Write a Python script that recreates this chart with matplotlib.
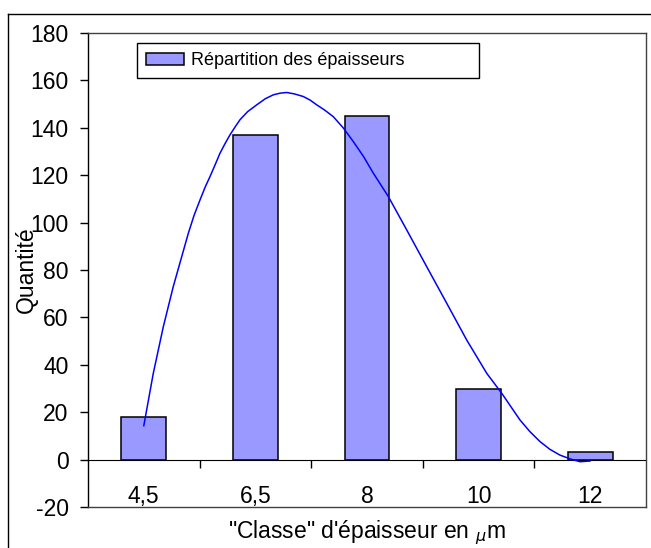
import numpy as np
import matplotlib.pyplot as plt
from matplotlib.lines import Line2D

plt.rcParams["font.family"] = ["Liberation Sans", "DejaVu Sans"]
plt.rcParams["axes.unicode_minus"] = False

# Data
classes = ["4,5", "6,5", "8", "10", "12"]
counts = [18, 137, 145, 30, 3]

# Smoothed curve (category position, value)
curve_pos = [0.0, 0.085, 0.175, 0.264, 0.399, 0.45, 0.504, 0.55, 0.593, 0.64, 0.683,
             0.73, 0.772, 0.82, 0.862, 0.93, 1.012, 1.09, 1.160, 1.22, 1.280, 1.35,
             1.429, 1.49, 1.549, 1.62, 1.698, 1.79, 1.877, 1.97, 2.056, 2.191, 2.356,
             2.535, 2.714, 2.893, 3.073, 3.207, 3.371, 3.46, 3.550, 3.64, 3.729, 3.82,
             3.909, 3.998]
curve_val = [14.3, 36.4, 56.1, 73.0, 95.5, 103.0, 109.6, 115.0, 119.4, 124.5, 129.3,
             133.5, 137.0, 140.5, 143.4, 146.8, 149.7, 152.3, 153.9, 154.6, 154.9, 154.3,
             153.2, 151.7, 149.7, 147.5, 144.7, 139.8, 134.2, 127.8, 120.9, 111.0, 96.9,
             81.4, 66.0, 50.5, 36.4, 28.0, 16.7, 11.8, 7.6, 4.3, 1.9, 0.3,
             -0.9, -0.6]

W, H = 651, 548
fig = plt.figure(figsize=(W / 100, H / 100), dpi=100)
ax = fig.add_axes([88 / W, 1 - 507 / H, (646 - 88) / W, (507 - 33) / H])

x = np.arange(len(classes))
ax.bar(x, counts, width=0.4, color="#9999FF", edgecolor="black", linewidth=1.1,
       label="Répartition des épaisseurs", zorder=2)
ax.plot(curve_pos, curve_val, color="#0000FF", linewidth=1.1, zorder=3,
        solid_joinstyle="round")

ax.set_xlim(-0.5, len(classes) - 0.5)
ax.set_ylim(-20, 180)
ax.set_yticks(np.arange(-20, 181, 20))
ax.tick_params(axis="y", direction="out", length=6, width=1, pad=8, labelsize=16.5)
ax.set_xticks([])
for s in ax.spines.values():
    s.set_color("#404040")
    s.set_linewidth(1)
ax.spines["left"].set_color("black")

# category axis drawn at y = 0
sec = ax.secondary_xaxis(20 / 200)
sec.spines["bottom"].set_color("black")
sec.set_xticks(x[:-1] + 0.5, labels=[""] * (len(classes) - 1))
sec.set_xticks(x, labels=classes, minor=True)
sec.tick_params(which="major", direction="out", length=6, width=1)
sec.tick_params(which="minor", length=0, pad=18, labelsize=16.5)

ax.set_ylabel("Quantité", fontsize=16.5)
ax.yaxis.set_label_coords(-0.09, 0.5)
ax.set_xlabel("\"Classe\" d'épaisseur en $_{\\mu}$m", fontsize=16.5)
ax.xaxis.set_label_coords(0.5, -0.024)

ax.legend(loc="upper left", bbox_to_anchor=((137 - 88) / 558, (507 - 43) / 474, (479 - 137) / 558, 0.0),
          mode="expand", fontsize=13, fancybox=False, edgecolor="black", framealpha=1,
          handlelength=2.1, handleheight=0.65, handletextpad=0.4, borderpad=0.5,
          borderaxespad=0)
ax.get_legend().get_frame().set_linewidth(1)

# outer chart frame
fig.add_artist(Line2D([8 / W, 8 / W], [0, 1 - 14 / H], color="black", linewidth=1))
fig.add_artist(Line2D([8 / W, 1], [1 - 14 / H, 1 - 14 / H], color="black", linewidth=1))

fig.savefig("out.png", dpi=100)
